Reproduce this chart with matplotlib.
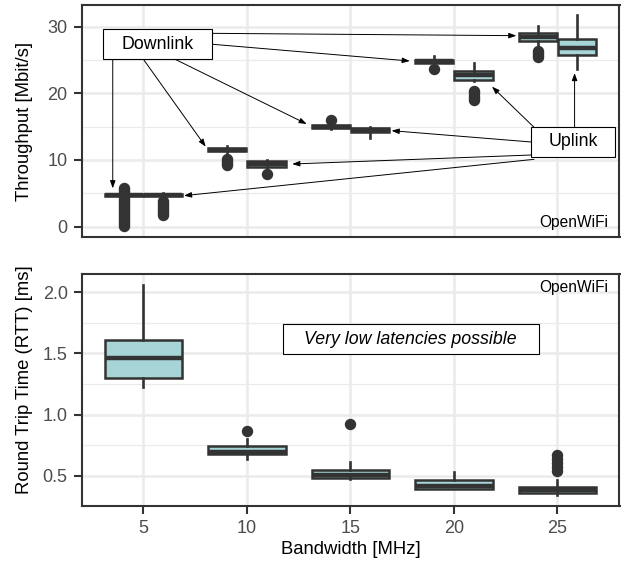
import matplotlib
matplotlib.use("Agg")
import matplotlib.pyplot as plt
from matplotlib.patches import Rectangle

plt.rcParams['font.family'] = ['Liberation Sans', 'DejaVu Sans']

# ---------------- data ----------------
bandwidth = [5, 10, 15, 20, 25]
bw_ticks = [5, 10, 15, 20, 25]

# Throughput Downlink (Mbit/s)
dl_q1 = [4.55, 11.30, 14.80, 24.60, 27.90]
dl_med = [4.75, 11.50, 15.00, 24.80, 28.50]
dl_q3 = [4.95, 11.75, 15.20, 25.05, 29.05]
dl_whislo = [4.50, 11.10, 14.70, 24.45, 27.30]
dl_whishi = [5.10, 12.15, 15.30, 25.60, 30.10]
dl_fliers = [
    [5.85, 5.55, 5.25, 4.35, 4.05, 3.75, 3.45, 3.15, 2.85, 2.55, 2.25, 1.95,
     1.65, 1.35, 1.05, 0.75, 0.45, 0.15],
    [10.2, 9.9, 9.6, 9.3],
    [16.0],
    [23.7],
    [26.4, 26.1, 25.8, 25.5],
]

# Throughput Uplink (Mbit/s)
ul_q1 = [4.55, 9.00, 14.20, 22.05, 25.70]
ul_med = [4.75, 9.40, 14.50, 22.80, 26.75]
ul_q3 = [4.95, 9.80, 14.85, 23.30, 28.15]
ul_whislo = [4.50, 8.80, 13.30, 21.80, 23.60]
ul_whishi = [5.00, 10.00, 15.00, 24.50, 31.75]
ul_fliers = [
    [3.8, 3.5, 3.2, 2.9, 2.6, 2.3, 2.0, 1.8],
    [7.9],
    [],
    [20.35, 20.0, 19.65, 19.3, 18.95],
    [],
]

# Round trip time (ms)
rtt_q1 = [1.300, 0.680, 0.478, 0.395, 0.357]
rtt_med = [1.459, 0.697, 0.504, 0.415, 0.383]
rtt_q3 = [1.609, 0.740, 0.546, 0.465, 0.410]
rtt_whislo = [1.227, 0.634, 0.470, 0.390, 0.342]
rtt_whishi = [2.060, 0.797, 0.612, 0.528, 0.465]
rtt_fliers = [[], [0.865], [0.925], [], [0.67, 0.64, 0.605, 0.57, 0.535]]

# annotation arrows (start x, start y, end x, end y)
dl_arrows = [
    (3.52, 25.11, 3.52, 5.75),
    (5.00, 25.11, 8.01, 12.0),
    (6.53, 25.11, 12.89, 15.4),
    (8.33, 29.00, 23.02, 28.65),
    (8.33, 27.36, 17.87, 24.85),
]
ul_arrows = [
    (25.83, 14.91, 25.83, 23.05),
    (23.87, 14.91, 21.84, 21.0),
    (23.74, 12.70, 16.99, 14.4),
    (23.74, 10.75, 12.19, 9.4),
    (23.87, 10.10, 6.96, 4.65),
]

# ---------------- style ----------------
DARK = '#333333'
FILL = '#A7D4D7'
GRID = '#EBEBEB'
TICKC = '#4D4D4D'


def stats(q1, med, q3, lo, hi, fl):
    return [dict(q1=a, med=b, q3=c, whislo=d, whishi=e, fliers=f)
            for a, b, c, d, e, f in zip(q1, med, q3, lo, hi, fl)]


def draw(ax, st, pos, width):
    ax.bxp(st, positions=pos, widths=width, patch_artist=True, showcaps=False,
           boxprops=dict(facecolor=FILL, edgecolor=DARK, linewidth=1.8),
           medianprops=dict(color=DARK, linewidth=3.2, solid_capstyle='butt'),
           whiskerprops=dict(color=DARK, linewidth=1.9),
           flierprops=dict(marker='o', markerfacecolor=DARK, markeredgecolor=DARK,
                           markersize=7.2, linestyle='none'),
           manage_ticks=False, zorder=3)


def style(ax):
    ax.set_facecolor('white')
    for s in ax.spines.values():
        s.set_color(DARK)
        s.set_linewidth(1.5)
    ax.grid(True, which='major', color=GRID, linewidth=1.8, zorder=0)
    ax.grid(True, which='minor', axis='y', color=GRID, linewidth=0.9, zorder=0)
    ax.set_axisbelow(True)
    ax.tick_params(axis='both', which='major', color=DARK, width=1.5, length=5.6,
                   labelcolor=TICKC, labelsize=13, pad=4.5)
    ax.tick_params(axis='both', which='minor', length=0)
    ax.set_xticks(bw_ticks)
    ax.set_xlim(2.02, 28.0)


W, H = 621, 562
fig = plt.figure(figsize=(W / 100, H / 100), dpi=100)

ax1 = fig.add_axes([81.7 / W, 1 - 237 / H, (619.5 - 81.7) / W, (237 - 5) / H])
ax2 = fig.add_axes([81.7 / W, 1 - 506 / H, (619.5 - 81.7) / W, (506 - 274.3) / H])

for ax in (ax1, ax2):
    style(ax)

# top panel
off = 0.95
draw(ax1, stats(dl_q1, dl_med, dl_q3, dl_whislo, dl_whishi, dl_fliers),
     [b - off for b in bandwidth], 1.85)
draw(ax1, stats(ul_q1, ul_med, ul_q3, ul_whislo, ul_whishi, ul_fliers),
     [b + off for b in bandwidth], 1.85)
ax1.set_ylim(-1.55, 33.25)
ax1.set_yticks([0, 10, 20, 30])
ax1.set_yticks([5, 15, 25], minor=True)
ax1.tick_params(axis='x', which='both', length=0, labelbottom=False)

for (x0, y0, x1, y1) in dl_arrows + ul_arrows:
    ax1.annotate('', xy=(x1, y1), xytext=(x0, y0), zorder=5,
                 arrowprops=dict(arrowstyle='-|>,head_length=0.5,head_width=0.18',
                                 color='black', lw=0.7, mutation_scale=9,
                                 shrinkA=0, shrinkB=0))

ax1.add_patch(Rectangle((3.04, 25.11), 8.33 - 3.04, 29.61 - 25.11, facecolor='white',
                        edgecolor='black', lw=0.8, zorder=6))
ax1.text(5.69, 27.36, 'Downlink', ha='center', va='center', fontsize=12.8, zorder=7)
ax1.add_patch(Rectangle((23.74, 10.5), 27.78 - 23.74, 14.91 - 10.5, facecolor='white',
                        edgecolor='black', lw=0.8, zorder=6))
ax1.text(25.76, 12.7, 'Uplink', ha='center', va='center', fontsize=12.8, zorder=7)
ax1.text(0.980, 0.044, 'OpenWiFi', transform=ax1.transAxes, ha='right', va='baseline',
         fontsize=11.2, color='black', zorder=7)

# bottom panel
draw(ax2, stats(rtt_q1, rtt_med, rtt_q3, rtt_whislo, rtt_whishi, rtt_fliers),
     bandwidth, 3.75)
ax2.set_ylim(0.252, 2.147)
ax2.set_yticks([0.5, 1.0, 1.5, 2.0])
ax2.set_yticklabels(['0.5', '1.0', '1.5', '2.0'])
ax2.set_yticks([0.75, 1.25, 1.75], minor=True)
ax2.set_xticklabels([str(b) for b in bw_ticks])

ax2.add_patch(Rectangle((11.73, 1.492), 24.1 - 11.73, 1.739 - 1.492, facecolor='white',
                        edgecolor='black', lw=0.8, zorder=6))
ax2.text(17.9, 1.615, 'Very low latencies possible', ha='center', va='center',
         fontsize=12.8, style='italic', zorder=7)
ax2.text(0.980, 0.924, 'OpenWiFi', transform=ax2.transAxes, ha='right', va='baseline',
         fontsize=11.2, color='black', zorder=7)

fig.text(24.5 / W, 1 - 121 / H, 'Throughput [Mbit/s]', rotation=90, ha='center',
         va='center', fontsize=13.3)
fig.text(25 / W, 1 - 379.5 / H, 'Round Trip Time (RTT) [ms]', rotation=90, ha='center',
         va='center', fontsize=13.3)
fig.text(350.5 / W, 1 - 550 / H, 'Bandwidth [MHz]', ha='center', va='center',
         fontsize=13.3)

fig.savefig('out.png', dpi=100)
